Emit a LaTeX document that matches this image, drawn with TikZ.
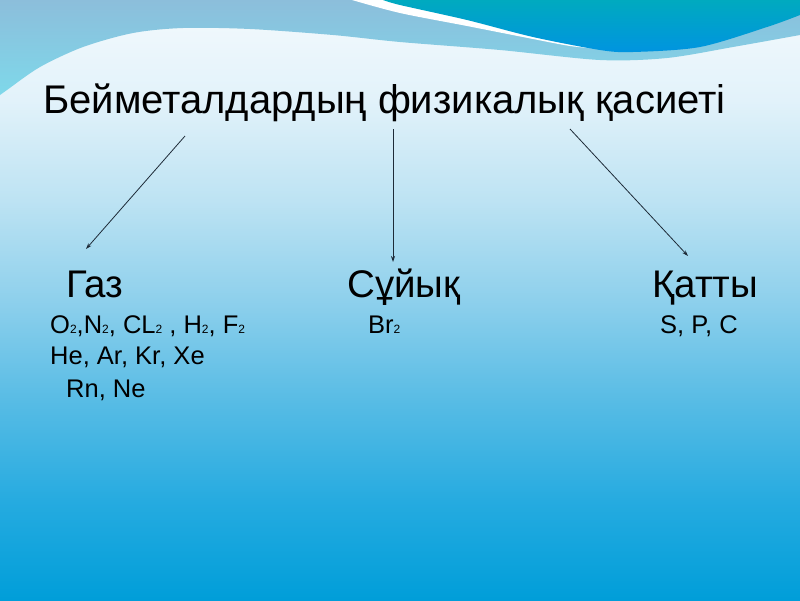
\documentclass[tikz,border=0pt]{standalone}
\usepackage{fontspec}
\setmainfont{Liberation Sans}
\usetikzlibrary{arrows.meta,positioning}
\usepackage{xcolor}

\definecolor{skyTop}{HTML}{F4FAFD}
\definecolor{skyB}{HTML}{E2F2FA}
\definecolor{skyC}{HTML}{BDE3F3}
\definecolor{skyD}{HTML}{8ED0EC}
\definecolor{skyE}{HTML}{58BCE5}
\definecolor{skyF}{HTML}{26ABE0}
\definecolor{skyBot}{HTML}{009ED9}
\definecolor{bandTop}{HTML}{8CBEDB}
\definecolor{bandBot}{HTML}{7ED8EA}
\definecolor{waveTop}{HTML}{00AABF}
\definecolor{waveBot}{HTML}{0094E0}
\definecolor{arrowInk}{HTML}{1E2B38}

\pgfdeclareverticalshading{skyfade}{100bp}{color(0bp)=(skyBot); color(25bp)=(skyBot);
  color(33.33bp)=(skyF); color(41.67bp)=(skyE); color(50bp)=(skyD);
  color(58.33bp)=(skyC); color(66.67bp)=(skyB); color(75bp)=(skyTop); color(100bp)=(skyTop)}

\newcommand{\lowtwo}{{\fontsize{12}{12}\selectfont 2}}

\begin{document}
\begin{tikzpicture}[
  x=1pt, y=-1pt,
  title/.style={font=\fontsize{40}{44}\selectfont, inner sep=0pt, anchor=base west},
  phase/.style={font=\fontsize{38.5}{42}\selectfont, inner sep=0pt, anchor=base west},
  items/.style={font=\fontsize{25.5}{28}\selectfont, inner sep=0pt, anchor=base west},
  arr/.style={-{Stealth[length=6pt,width=4pt]}, line width=0.8pt, draw=arrowInk}
]
\useasboundingbox (0,0) rectangle (800,600);
% background and waves
\shade[shading=skyfade] (0,0) rectangle (800,600);
\shade[top color=bandTop, bottom color=bandBot]
  (0,0) -- (800,0) -- (800,35)
  -- plot[smooth] coordinates {(800,35) (733,47) (667,58) (600,60) (500,50) (400,42) (333,35) (250,29) (183,28) (133,33) (83,47) (40,67) (7,90) (0,95)}
  -- cycle;
\fill[white]
  plot[smooth] coordinates {(352,0) (400,13) (467,26) (533,39) (570,46) (600,49)}
  -- (800,0) -- cycle;
\shade[top color=waveTop, bottom color=waveBot]
  plot[smooth] coordinates {(383,0) (400,5) (467,20) (533,37) (600,50) (633,52) (700,47) (767,27) (800,15)}
  -- (800,0) -- cycle;

\node[title] (head) at (43,113) {Бейметалдардың физикалық қасиеті};

\node[phase] (gas) at (66,297) {Газ};
\node[phase] (liquid) at (347,297) {Сұйық};
\node[phase] (solid) at (652,297) {Қатты};

\node[items] (gasA) at (50,333) {O\lowtwo,N\lowtwo, CL\lowtwo{} , H\lowtwo, F\lowtwo};
\node[items] (gasB) at (50,364) {He, Ar, Kr, Xe};
\node[items] (gasC) at (66,397) {Rn, Ne};
\node[items] (liquidA) at (368,333) {Br\lowtwo};
\node[items] (solidA) at (660,333) {S, P, C};

\coordinate (fromGas) at (185,136);
\coordinate (toGas) at (86,249);
\coordinate (fromLiquid) at (393,129);
\coordinate (toLiquid) at (393,262);
\coordinate (fromSolid) at (570,129);
\coordinate (toSolid) at (688,256);
\draw[arr] (fromGas) -- (toGas);
\draw[arr] (fromLiquid) -- (toLiquid);
\draw[arr] (fromSolid) -- (toSolid);
\end{tikzpicture}
\end{document}
